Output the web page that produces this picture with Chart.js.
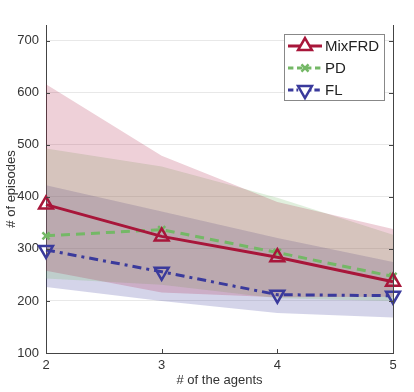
<!DOCTYPE html>
<html>
<head>
<meta charset="utf-8">
<script src="https://cdn.jsdelivr.net/npm/chart.js@4"></script>
<style>
  html, body { margin: 0; padding: 0; background: #fff; }
  #wrap { width: 414px; height: 392px; position: relative; }
</style>
</head>
<body>
<div id="wrap"><canvas id="chart"></canvas></div>
<script>
// data
const agents = [2, 3, 4, 5];
const yTicks = [100, 200, 300, 400, 500, 600, 700];

const mixfrdMean  = [385, 324, 284, 237];
const mixfrdUpper = [616, 479, 390, 338];
const mixfrdLower = [258, 216, 207, 208];

const pdMean  = [325, 337, 293, 247];
const pdUpper = [493, 458, 398, 327];
const pdLower = [243, 231, 205, 200];

const flMean  = [298, 256, 212, 210];
const flUpper = [422, 372, 321, 275];
const flLower = [227, 200, 177, 168];

const FONT = "'Liberation Sans', Arial, sans-serif";
const RED = "#a8163a";
const GREEN = "#74b866";
const BLUE = "#3a3a9c";
const AXIS = "#444";

const pts = vals => agents.map((a, i) => ({ x: a, y: vals[i] }));

// band = invisible lower edge + upper edge filled down to it
const band = (lower, upper, fillColor) => [
  { data: pts(lower), borderWidth: 0, pointRadius: 0, fill: false, order: 2 },
  { data: pts(upper), borderWidth: 0, pointRadius: 0, fill: "-1", backgroundColor: fillColor, order: 2 }
];

const lines = [
  { label: "MixFRD", data: pts(mixfrdMean), borderColor: RED, borderWidth: 3,
    pointStyle: "triangle", pointRadius: 8, pointBorderWidth: 2.5, pointRotation: 0 },
  { label: "PD", data: pts(pdMean), borderColor: GREEN, borderWidth: 3, borderDash: [9, 6],
    pointStyle: "crossRot", pointRadius: 5, pointBorderWidth: 2.5, pointRotation: 0 },
  { label: "FL", data: pts(flMean), borderColor: BLUE, borderWidth: 3, borderDash: [9, 5, 3, 5],
    pointStyle: "triangle", pointRadius: 8, pointBorderWidth: 2.5, pointRotation: 180 }
].map(d => ({ ...d, fill: false, tension: 0, backgroundColor: "transparent", clip: false,
  pointBackgroundColor: "transparent", pointBorderColor: d.borderColor, order: 0 }));

// inward tick marks + right axis line
const axisDecor = {
  id: "axisDecor",
  afterDraw(chart) {
    const { ctx, chartArea: a, scales } = chart;
    ctx.save();
    ctx.strokeStyle = AXIS;
    ctx.lineWidth = 1;
    ctx.beginPath();
    ctx.moveTo(a.right + 0.5, a.top);
    ctx.lineTo(a.right + 0.5, a.bottom);
    yTicks.forEach(v => {
      const y = Math.round(scales.y.getPixelForValue(v)) + 0.5;
      ctx.moveTo(a.left, y); ctx.lineTo(a.left + 4, y);
      ctx.moveTo(a.right, y); ctx.lineTo(a.right - 4, y);
    });
    agents.forEach(v => {
      const x = Math.round(scales.x.getPixelForValue(v)) + 0.5;
      ctx.moveTo(x, a.bottom); ctx.lineTo(x, a.bottom - 4);
    });
    ctx.stroke();
    ctx.restore();
  }
};

// legend box in the upper right corner
const boxLegend = {
  id: "boxLegend",
  afterDraw(chart) {
    const { ctx } = chart;
    const x0 = 284, y0 = 34, w = 100, h = 66;
    ctx.save();
    ctx.fillStyle = "#fff";
    ctx.fillRect(x0, y0, w, h);
    ctx.strokeStyle = "#888";
    ctx.lineWidth = 1;
    ctx.strokeRect(x0 + 0.5, y0 + 0.5, w, h);
    lines.forEach((d, i) => {
      const y = 46 + i * 22;
      ctx.strokeStyle = d.borderColor;
      ctx.lineWidth = 3;
      ctx.setLineDash(d.borderDash ? d.borderDash.map(s => s * 0.6) : []);
      ctx.beginPath();
      ctx.moveTo(288, y); ctx.lineTo(322, y);
      ctx.stroke();
      ctx.setLineDash([]);
      ctx.fillStyle = "#fff";
      ctx.lineWidth = d.pointBorderWidth;
      Chart.helpers.drawPoint(ctx, {
        pointStyle: d.pointStyle, radius: d.pointRadius, rotation: d.pointRotation,
        borderWidth: d.pointBorderWidth
      }, 305, y);
      ctx.fillStyle = "#222";
      ctx.font = "15px " + FONT;
      ctx.textBaseline = "middle";
      ctx.fillText(d.label, 325, y + 1);
    });
    ctx.restore();
  }
};

new Chart(document.getElementById("chart"), {
  type: "line",
  data: {
    datasets: [
      ...lines,
      ...band(mixfrdLower, mixfrdUpper, "rgba(168,22,58,0.2)"),
      ...band(pdLower, pdUpper, "rgba(116,184,102,0.22)"),
      ...band(flLower, flUpper, "rgba(58,58,156,0.22)")
    ]
  },
  options: {
    responsive: true,
    maintainAspectRatio: false,
    animation: false,
    layout: { padding: { top: 25, right: 21, left: 0, bottom: 0 } },
    plugins: {
      legend: { display: false },
      tooltip: { enabled: false }
    },
    scales: {
      x: {
        type: "linear",
        min: 2,
        max: 5,
        afterBuildTicks: axis => { axis.ticks = agents.map(v => ({ value: v })); },
        afterFit: axis => { axis.height = 39; },
        ticks: { color: "#333", font: { family: FONT, size: 13 }, padding: 5 },
        grid: { display: false, drawTicks: false },
        border: { color: AXIS, width: 1 },
        title: { display: true, text: "# of the agents", color: "#333",
          font: { family: FONT, size: 13 }, padding: { top: 2, bottom: 4 } }
      },
      y: {
        min: 100,
        max: 730,
        afterBuildTicks: axis => { axis.ticks = yTicks.map(v => ({ value: v })); },
        afterFit: axis => { axis.width = 46; },
        ticks: { color: "#333", font: { family: FONT, size: 13 }, padding: 7 },
        grid: { color: "rgba(0,0,0,0.09)", drawTicks: false },
        border: { color: AXIS, width: 1 },
        title: { display: true, text: "# of episodes", color: "#333",
          font: { family: FONT, size: 13 }, padding: { top: 4, bottom: 2 } }
      }
    }
  },
  plugins: [axisDecor, boxLegend]
});
</script>
</body>
</html>
